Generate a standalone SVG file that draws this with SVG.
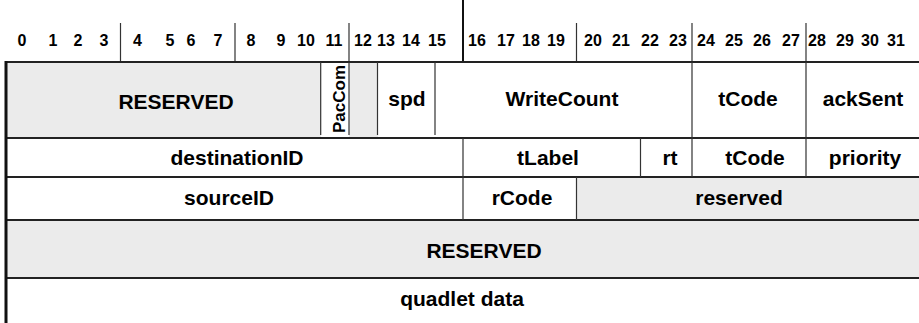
<svg xmlns="http://www.w3.org/2000/svg" width="919" height="323" viewBox="0 0 919 323">
<style>
.t{font-family:"Liberation Sans",Arial,sans-serif;font-weight:bold;font-size:21px;fill:#000;text-anchor:middle}
.n{font-family:"Liberation Sans",Arial,sans-serif;font-weight:bold;font-size:16px;fill:#000;text-anchor:middle}
.g{fill:#ebebeb}
.h{stroke:#222;stroke-width:2;fill:none}
.v{stroke:#333;stroke-width:1.2;fill:none}
</style>
<rect width="919" height="323" fill="#fff"/>
<g id="ruler">
<g class="n">
<text x="22" y="46">0</text><text x="53" y="46">1</text><text x="78" y="46">2</text><text x="104" y="46">3</text>
<text x="137.5" y="46">4</text><text x="170" y="46">5</text><text x="191" y="46">6</text><text x="218" y="46">7</text>
<text x="251" y="46">8</text><text x="281" y="46">9</text><text x="306" y="46">10</text><text x="334" y="46">11</text>
<text x="363" y="46">12</text><text x="386" y="46">13</text><text x="411" y="46">14</text><text x="437" y="46">15</text>
<text x="477" y="46">16</text><text x="506" y="46">17</text><text x="531" y="46">18</text><text x="556" y="46">19</text>
<text x="593" y="46">20</text><text x="621" y="46">21</text><text x="650" y="46">22</text><text x="678" y="46">23</text>
<text x="706" y="46">24</text><text x="734" y="46">25</text><text x="762" y="46">26</text><text x="791" y="46">27</text>
<text x="817" y="46">28</text><text x="845" y="46">29</text><text x="870" y="46">30</text><text x="896" y="46">31</text>
</g>
<path class="v" d="M120.5 23V62M235 23V62M349 23V62M576.5 23V62M692 23V62M806 23V62"/>
<path stroke="#111" stroke-width="2" d="M463 0V62"/>
</g>
<g id="row1">
<g id="reserved1"><rect class="g" x="6" y="62" width="315" height="76"/><text class="t" x="176" y="109">RESERVED</text></g>
<g id="paccom"><text class="t" style="font-size:17px" transform="translate(345 99) rotate(-90)">PacCom</text></g>
<g id="rsv12"><rect class="g" x="349" y="62" width="29" height="76"/></g>
<g id="spd"><text class="t" x="407" y="106">spd</text></g>
<g id="writecount"><text class="t" x="562" y="106">WriteCount</text></g>
<g id="tcode1"><text class="t" x="748" y="106">tCode</text></g>
<g id="acksent"><text class="t" x="863" y="106">ackSent</text></g>
</g>
<g id="row2">
<g id="destinationID"><text class="t" x="237" y="165">destinationID</text></g>
<g id="tlabel"><text class="t" x="548" y="165">tLabel</text></g>
<g id="rt"><text class="t" x="670" y="165">rt</text></g>
<g id="tcode2"><text class="t" x="755" y="165">tCode</text></g>
<g id="priority"><text class="t" x="865" y="165">priority</text></g>
</g>
<g id="row3">
<g id="sourceID"><text class="t" x="229" y="205">sourceID</text></g>
<g id="rcode"><text class="t" x="522" y="205">rCode</text></g>
<g id="reserved3"><rect class="g" x="576.5" y="177" width="342.5" height="43"/><text class="t" x="739" y="205">reserved</text></g>
</g>
<g id="row4">
<g id="reserved4"><rect class="g" x="6" y="220" width="913" height="58"/><text class="t" x="484" y="258">RESERVED</text></g>
</g>
<g id="row5">
<g id="quadlet"><text class="t" x="462" y="306">quadlet data</text></g>
</g>
<g id="grid">
<path class="h" d="M6 62H919M6 138H919M6 177H919M6 220H919M6 278H919"/>
<path class="v" d="M320.7 62V135M349 62V135M377.5 62V135M435 62V135M692 62V177M806 62V177M463 138V220M640.5 138V177M576.5 177V220"/>
<path stroke="#111" stroke-width="3" d="M6 61V323"/>
</g>
</svg>
